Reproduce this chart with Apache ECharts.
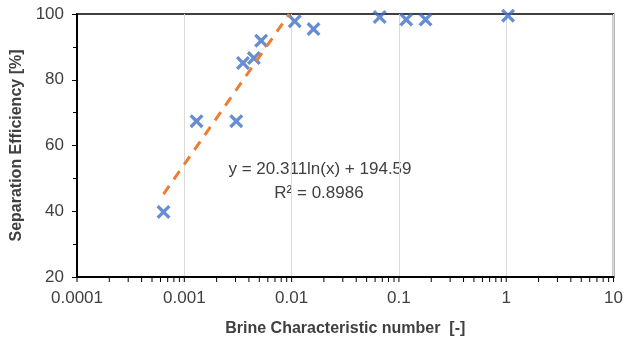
<!DOCTYPE html>
<html>
<head>
<meta charset="utf-8">
<script src="https://cdn.jsdelivr.net/npm/echarts@6/dist/echarts.min.js"></script>
<style>
html,body{margin:0;padding:0;background:#fff;}
#chart{width:626px;height:343px;}
</style>
</head>
<body>
<div id="chart"></div>
<script>
// Data
const brineNumber = [0.00064, 0.0013, 0.00305, 0.00352, 0.00445, 0.0052, 0.0107, 0.016, 0.0662, 0.117, 0.177, 1.04];
const separationEff = [39.8, 67.4, 67.4, 85.1, 86.6, 91.9, 97.8, 95.4, 99.1, 98.3, 98.3, 99.5];
// Logarithmic trendline as printed on the chart
const trendA = 20.311;
const trendB = 194.59;
const trendR2 = '0.8986';
const yTicks = [20, 40, 60, 80, 100];
const xDecades = [0.0001, 0.001, 0.01, 0.1, 1, 10];

const points = brineNumber.map((x, i) => [x, separationEff[i]]);
const yMax = 100;
const trendX0 = Math.min(...brineNumber);
const trendX1 = Math.exp((yMax - trendB) / trendA);
const trendLine = [[trendX0, trendA * Math.log(trendX0) + trendB], [trendX1, yMax]];

// minor tick positions on the log axis (2..9 within each decade)
const minorX = [];
for (let d = 0; d < xDecades.length - 1; d++) {
  for (let k = 2; k <= 9; k++) minorX.push(+(xDecades[d] * k).toPrecision(6));
}
const allXTicks = xDecades.concat(minorX);

const FONT = '"Liberation Sans", Arial, sans-serif';
const TXT = '#404040';
const xMark = 'path://M2,0 L6,4 L10,0 L12,2 L8,6 L12,10 L10,12 L6,8 L2,12 L0,10 L4,6 L0,2 Z';

const chart = echarts.init(document.getElementById('chart'), null, {renderer: 'canvas'});
chart.setOption({
  animation: false,
  backgroundColor: '#fff',
  grid: {left: 77, right: 9, top: 14, bottom: 66, show: true, borderColor: '#000', borderWidth: 1.5, containLabel: false},
  xAxis: {
    type: 'log', logBase: 10, min: xDecades[0], max: xDecades[xDecades.length - 1],
    position: 'bottom',
    name: 'Brine Characteristic number  [-]', nameLocation: 'middle', nameGap: 44,
    nameTextStyle: {fontFamily: FONT, fontSize: 16, fontWeight: 'bold', color: TXT},
    axisLine: {show: true, onZero: false, lineStyle: {color: '#000', width: 2}},
    axisTick: {show: false},
    axisLabel: {fontFamily: FONT, fontSize: 17, color: TXT, margin: 13,
      formatter: v => String(+v.toPrecision(6))},
    splitLine: {show: true, lineStyle: {color: '#d9d9d9', width: 1}}
  },
  yAxis: {
    type: 'value', min: yTicks[0], max: yTicks[yTicks.length - 1], interval: 20,
    name: 'Separation Efficiency [%]', nameLocation: 'middle', nameGap: 52,
    nameTextStyle: {fontFamily: FONT, fontSize: 16, fontWeight: 'bold', color: TXT},
    axisLine: {show: true, onZero: false, lineStyle: {color: '#000', width: 2}},
    axisTick: {show: true, length: 5, lineStyle: {color: '#000', width: 1}},
    minorTick: {show: true, splitNumber: 2, length: 4, lineStyle: {color: '#000', width: 1}},
    axisLabel: {fontFamily: FONT, fontSize: 17, color: TXT, margin: 13},
    splitLine: {show: false}
  },
  series: [{
    // x-axis tick marks (major and minor) drawn through the axis scale
    type: 'custom', silent: true, clip: false, z: 5,
    data: allXTicks.map(v => [v, yTicks[0]]),
    renderItem: function (params, api) {
      const p = api.coord([api.value(0), api.value(1)]);
      return {type: 'line', shape: {x1: p[0], y1: p[1], x2: p[0], y2: p[1] + 5},
        style: {stroke: '#000', lineWidth: 1}};
    }
  }, {
    type: 'scatter', data: points,
    symbol: xMark, symbolSize: 14,
    itemStyle: {color: '#4070C8'}, z: 3
  }, {
    type: 'line', data: trendLine, showSymbol: false, symbol: 'none',
    lineStyle: {color: '#ED7D31', width: 3, type: [10, 8]}, z: 4, silent: true
  }],
  graphic: [{
    type: 'text',
    style: {text: 'y = 20.311ln(x) + 194.59', x: 320, y: 169, align: 'center', verticalAlign: 'middle',
      font: '17px ' + FONT, fill: TXT}
  }, {
    type: 'text',
    style: {text: 'R² = ' + trendR2, x: 319, y: 193, align: 'center', verticalAlign: 'middle',
      font: '17px ' + FONT, fill: TXT}
  }]
});
</script>
</body>
</html>
